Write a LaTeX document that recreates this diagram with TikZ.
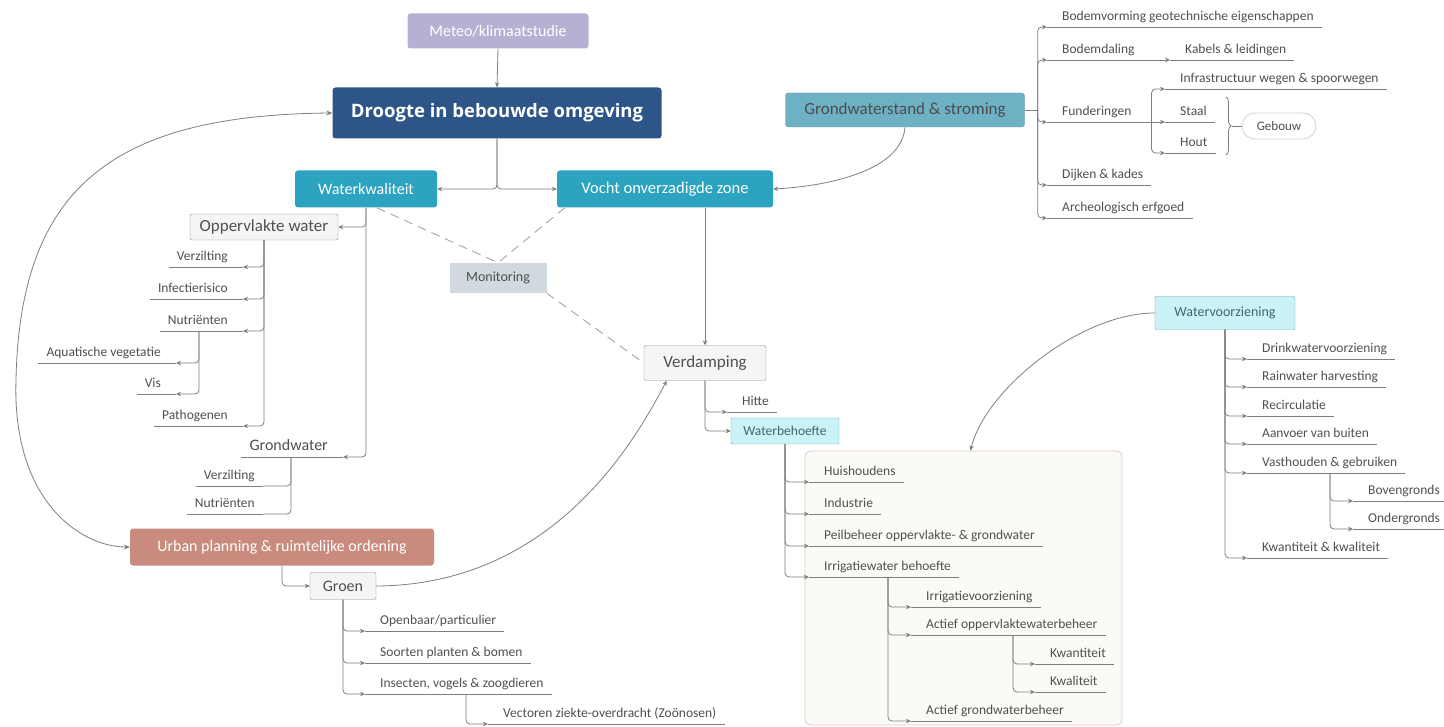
\documentclass[tikz,border=0pt]{standalone}
\usepackage{fontspec}
\setmainfont{Carlito}
\newfontfamily\titlefont{Open Sans}
\usetikzlibrary{arrows.meta,calc,decorations.pathreplacing}
\definecolor{linec}{HTML}{7F7F7F}
\definecolor{txt}{HTML}{505050}
\definecolor{meteo}{HTML}{B5B1D3}
\definecolor{droog}{HTML}{2E5587}
\definecolor{tealA}{HTML}{2CA4C0}
\definecolor{tealB}{HTML}{6EB1C5}
\definecolor{urb}{HTML}{C98B7D}
\definecolor{cyanf}{HTML}{CAF3F8}
\definecolor{cyanb}{HTML}{6AAFBE}
\definecolor{cyant}{HTML}{3E6672}
\definecolor{monf}{HTML}{D0D9DD}
\definecolor{greyf}{HTML}{F5F5F5}
\definecolor{greyb}{HTML}{8C8C8C}
\definecolor{beigef}{HTML}{FCFAF7}
\definecolor{beigeb}{HTML}{DAD1C8}
\newcommand\myfs[1]{\fontsize{#1}{#1}\selectfont}
\tikzset{
  box/.style={rectangle, rounded corners=3pt, inner sep=0pt, align=center},
  plain/.style={draw=linec, line width=0.8pt, rounded corners=4pt},
  curv/.style={draw=linec, line width=0.8pt},
  tip/.style={-{Stealth[length=5pt,width=4.5pt]}},
  con/.style={plain, tip},
  monline/.style={draw=linec!70, line width=0.9pt, dash pattern=on 9pt off 6pt},
  leafbase/.style={font=\myfs{13.5}, text=txt, inner xsep=8pt, inner ysep=3pt, text height=9.5pt, text depth=3.5pt},
  leafR/.style={leafbase, anchor=south west, execute at begin node={\hspace*{7pt}}},
  leafL/.style={leafbase, anchor=south east, execute at end node={\hspace*{7pt}}},
  leafLn/.style={leafbase, anchor=south east},
  ul/.style={draw=linec, line width=0.8pt}
}
\begin{document}
\begin{tikzpicture}[x=1pt,y=-1pt]
\useasboundingbox (0,0) rectangle (1444,727);
\fill[white] (0,0) rectangle (1444,727);

% background box
\node[rectangle, rounded corners=6pt, fill=beigef, draw=beigeb, line width=0.8pt, minimum width=317pt, minimum height=274pt] (wbbox) at (963.5,588) {};

% main boxes
\node[box, fill=meteo, text=white, minimum width=181pt, minimum height=35pt, font=\myfs{16}] (met) at (498,31) {Meteo/klimaatstudie};
\node[box, fill=droog, text=white, minimum width=329pt, minimum height=51pt, font=\titlefont\bfseries\myfs{18.5}] (dr) at (497,113) {Droogte in bebouwde omgeving};
\node[box, fill=tealA, text=white, minimum width=142pt, minimum height=37pt, font=\myfs{16}] (wk) at (366,189) {Waterkwaliteit};
\node[box, fill=tealA, text=white, minimum width=216pt, minimum height=37pt, font=\myfs{16.5}] (vo) at (665,189) {Vocht onverzadigde zone};
\node[box, fill=tealB, draw=tealB!85!black, text=black!70, minimum width=239pt, minimum height=34pt, font=\myfs{17}] (gws) at (905,110) {Grondwaterstand \& stroming};
\node[box, rounded corners=2pt, fill=greyf, draw=greyb, text=txt, minimum width=148pt, minimum height=26pt, font=\myfs{17}] (ow) at (264,227) {Oppervlakte water};
\node[box, rounded corners=0pt, fill=monf, text=txt, minimum width=97pt, minimum height=30pt, font=\myfs{14}] (mon) at (498,278) {Monitoring};
\node[box, rounded corners=2pt, fill=greyf, draw=greyb, text=txt, minimum width=122pt, minimum height=35pt, font=\myfs{17}] (vd) at (705,363) {Verdamping};
\node[box, rounded corners=1pt, fill=cyanf, draw=cyanb, text=cyant, minimum width=108pt, minimum height=26pt, font=\myfs{13.5}] (wb) at (785,431) {Waterbehoefte};
\node[box, rounded corners=1pt, fill=cyanf, draw=cyanb, text=cyant, minimum width=140pt, minimum height=33pt, font=\myfs{14}] (wv) at (1225,313) {Watervoorziening};
\node[box, fill=urb, text=white, minimum width=304pt, minimum height=37pt, font=\myfs{16}] (ur) at (282,547) {Urban planning \& ruimtelijke ordening};
\node[box, rounded corners=2pt, fill=greyf, draw=greyb, text=txt, minimum width=66pt, minimum height=27pt, font=\myfs{16}] (gr) at (343,586) {Groen};
\node[box, rounded corners=13pt, fill=white, draw=beigeb, line width=0.8pt, text=txt, minimum width=74pt, minimum height=26pt, font=\myfs{13}] (gb) at (1279,126) {Gebouw};

% top right tree
\node[leafR] (bv) at (1047,27) {Bodemvorming geotechnische eigenschappen};
\node[leafR] (bd) at (1047,60) {Bodemdaling};
\node[leafR] (kab) at (1170,60) {Kabels \& leidingen};
\node[leafR] (fu) at (1047,122) {Funderingen};
\node[leafR] (inf) at (1165,89) {Infrastructuur wegen \& spoorwegen};
\node[leafR] (sta) at (1165,122) {Staal};
\node[leafR] (hou) at (1165,153) {Hout};
\node[leafR] (dk) at (1047,185) {Dijken \& kades};
\node[leafR] (ar) at (1047,218) {Archeologisch erfgoed};

% left tree
\node[leafL] (v1) at (243,267) {Verzilting};
\node[leafL] (if1) at (243,299) {Infectierisico};
\node[leafL] (nu1) at (243,331) {Nutriënten};
\node[leafL] (aq) at (176,363) {Aquatische vegetatie};
\node[leafL] (vis) at (176,394) {Vis};
\node[leafL] (pa) at (243,426) {Pathogenen};
\node[leafL, font=\myfs{16}] (gwl) at (343,457) {Grondwater};
\node[leafLn] (v2) at (263,486) {Verzilting};
\node[leafLn] (nu2) at (263,514) {Nutriënten};

% verdamping
\node[leafR] (hit) at (727,412) {Hitte};
\node[leafR] (hh) at (809,482) {Huishoudens};
\node[leafR] (ind) at (809,514) {Industrie};
\node[leafR] (pb) at (809,546) {Peilbeheer oppervlakte- \& grondwater};
\node[leafR] (iw) at (809,577) {Irrigatiewater behoefte};
\node[leafR] (iv) at (911,607) {Irrigatievoorziening};
\node[leafR] (ao) at (911,635) {Actief oppervlaktewaterbeheer};
\node[leafR] (kwa) at (1035,664) {Kwantiteit};
\node[leafR] (kwl) at (1035,692) {Kwaliteit};
\node[leafR] (ag) at (911,721) {Actief grondwaterbeheer};

% watervoorziening
\node[leafR] (dw) at (1247,359) {Drinkwatervoorziening};
\node[leafR] (rh) at (1247,387) {Rainwater harvesting};
\node[leafR] (rc) at (1247,416) {Recirculatie};
\node[leafR] (av) at (1247,444) {Aanvoer van buiten};
\node[leafR] (vh) at (1247,473) {Vasthouden \& gebruiken};
\node[leafR] (bov) at (1353,501) {Bovengronds};
\node[leafR] (ond) at (1353,529) {Ondergronds};
\node[leafR] (kk) at (1247,558) {Kwantiteit \& kwaliteit};

% groen
\node[leafR] (ob) at (365,631) {Openbaar/particulier};
\node[leafR] (sp) at (365,663) {Soorten planten \& bomen};
\node[leafR] (ins) at (365,694) {Insecten, vogels \& zoogdieren};
\node[leafR] (vec) at (488,724) {Vectoren ziekte-overdracht (Zoönosen)};

% underlines
\foreach \n in {bv,bd,kab,fu,inf,sta,hou,dk,ar,v1,if1,nu1,aq,vis,pa,gwl,v2,nu2,hit,hh,ind,pb,iw,iv,ao,kwa,kwl,ag,dw,rh,rc,av,vh,bov,ond,kk,ob,sp,ins,vec}
  \draw[ul] (\n.south west) -- (\n.south east);

% trunk coordinates
\coordinate (gwsT) at ($(gws.east)+(13,0)$);
\coordinate (fuT) at ($(fu.south east)+(12,0)$);
\coordinate (nuT) at (199,331);
\coordinate (gwT) at (291,457);
\coordinate (irrT) at (888,577);
\coordinate (aoT) at (1013,635);
\coordinate (vhT) at (1330,473);
\coordinate (insT) at (466,694);
\coordinate (arcL) at (16,380);
\coordinate (brT) at (1232,126);

% main connectors
\draw[con] (met.south) -- (dr.north);
\draw[con] (dr.south) |- (wk.east);
\draw[con] (dr.south) |- (vo.west);
\draw[curv, {Stealth[length=6pt,width=5pt]}-{Stealth[length=6pt,width=5pt]}] (dr.west) .. controls (110,115) and (20,190) .. (arcL) .. controls (12,500) and (80,547) .. (ur.west);
\draw[curv, tip] (gws.south) .. controls (902,170) and (830,186) .. (vo.east);
\draw[curv, tip] (gr.east) .. controls (560,585) and (640,430) .. ($(vd.south west)+(23,0)$);
\draw[curv, tip] (wv.west) .. controls (1080,313) and (985,390) .. ($(wbbox.north)+(7,0)$);
\draw[con] (vd.north |- vo.south) -- (vd.north);
\draw[con] (ur.south) |- (gr.west);

% monitoring
\draw[monline] (wk.300) -- (mon.north);
\draw[monline] ($(vo.south west)+(8,0)$) -- (mon.north);
\draw[monline] (mon.south east) -- (vd.west);

% top right tree connectors
\draw[plain] (gws.east) -- (gwsT);
\foreach \n in {bv,bd,fu,dk,ar} \draw[con] (gwsT) |- (\n.south west);
\draw[con] (bd.south east) -- (kab.south west);
\draw[plain] (fu.south east) -- (fuT);
\draw[con] (fuT) |- (inf.south west);
\draw[con] (fuT) -- (sta.south west);
\draw[con] (fuT) |- (hou.south west);
\draw[draw=linec, line width=0.8pt, decorate, decoration={brace, amplitude=5pt}] (1226,97) -- (1226,155);
\draw[plain] (brT) -- (gb.west);

% left tree connectors
\draw[con] (wk.south) |- (ow.east);
\draw[con] (wk.south) |- (gwl.south east);
\foreach \n in {v1,if1,nu1,pa} \draw[con] (ow.south) |- (\n.south east);
\foreach \n in {aq,vis} \draw[con] (nuT) |- (\n.south east);
\foreach \n in {v2,nu2} \draw[plain] (gwT) |- (\n.south east);

% verdamping connectors
\draw[con] (vd.south) |- (hit.south west);
\draw[con] (vd.south) |- (wb.west);
\foreach \n in {hh,ind,pb,iw} \draw[con] (wb.south) |- (\n.south west);
\foreach \n in {iv,ao,ag} \draw[con] (irrT) |- (\n.south west);
\foreach \n in {kwa,kwl} \draw[con] (aoT) |- (\n.south west);

% watervoorziening connectors
\foreach \n in {dw,rh,rc,av,vh,kk} \draw[con] (wv.south) |- (\n.south west);
\foreach \n in {bov,ond} \draw[con] (vhT) |- (\n.south west);

% groen connectors
\foreach \n in {ob,sp,ins} \draw[con] (gr.south) |- (\n.south west);
\draw[con] (insT) |- (vec.south west);
\end{tikzpicture}
\end{document}
